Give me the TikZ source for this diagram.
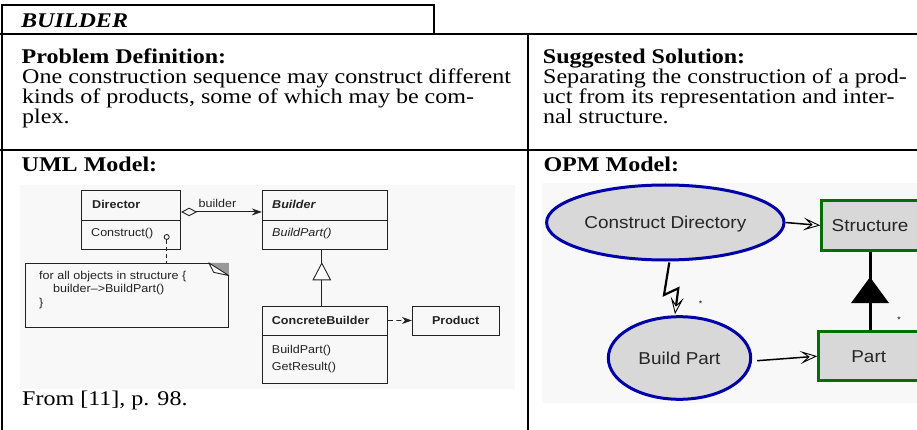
\documentclass[tikz,border=0pt]{standalone}
\usepackage{fontspec}
\setmainfont{Liberation Serif}[FakeStretch=1.15]
\newfontfamily\umlfont{Liberation Sans}[FakeStretch=1.1]
\newfontfamily\opmfont{Liberation Sans}[FakeStretch=1.1]
\usetikzlibrary{arrows.meta,shapes.geometric,calc}

\definecolor{opmblue}{RGB}{0,0,170}
\definecolor{opmgreen}{RGB}{0,110,0}
\definecolor{opmfill}{RGB}{216,216,216}
\definecolor{imgbg}{RGB}{248,248,248}
\definecolor{umlink}{RGB}{35,35,35}

\begin{document}
\begin{tikzpicture}[x=1pt,y=-1pt,
  rule/.style={line width=2pt},
  tabletext/.style={inner sep=0, anchor=base west, font=\fontsize{20.9}{20}\selectfont},
  umlbox/.style={draw=umlink, line width=0.9pt, rectangle, inner sep=0},
  umltext/.style={inner sep=0, anchor=west, text=umlink, font=\umlfont\fontsize{11.4}{14}\selectfont},
  umlline/.style={draw=umlink, line width=0.9pt},
  process/.style={ellipse, draw=opmblue, line width=3pt, fill=opmfill, inner sep=0, text depth=0pt,
    text=black!85, font=\opmfont\fontsize{17.2}{20}\selectfont},
  object/.style={rectangle, draw=opmgreen, line width=3pt, fill=opmfill, inner sep=0, text depth=0pt,
    text=black!85, font=\opmfont\fontsize{17.2}{20}\selectfont},
  opmlink/.style={draw=black, line width=1.5pt},
  opentip/.style={-{Stealth[open, length=17pt, width=13pt, inset=8pt, line width=0.9pt]}},
  mult/.style={inner sep=0, font=\opmfont\fontsize{8}{8}\selectfont}
]
\useasboundingbox (0,0) rectangle (917,430);
\clip (0,0) rectangle (917,430);

% faint backgrounds of the two model pictures
\fill[imgbg] (20,185) rectangle (515,389);
\fill[imgbg] (542,183) rectangle (917,403);

% table rules
\draw[rule] (2,5) -- (2,430);
\draw[line width=1.6pt] (1,5) -- (434,5) -- (434,34);
\draw[rule] (0,34) -- (917,34);
\draw[rule] (0,150) -- (917,150);
\draw[rule] (528,34) -- (528,430);

% table texts
\node[tabletext, font=\fontsize{20.9}{20}\selectfont\bfseries\itshape] (title) at (21,28) {BUILDER};
\node[tabletext, font=\fontsize{20.9}{20}\selectfont\bfseries] (probhead) at (21.5,64) {Problem Definition:};
\node[tabletext] (prob1) at (22,84) {One construction sequence may construct different};
\node[tabletext] (prob2) at (22,104) {kinds of products, some of which may be com-};
\node[tabletext] (prob3) at (22,124) {plex.};
\node[tabletext, font=\fontsize{20.9}{20}\selectfont\bfseries] (solhead) at (542.7,64) {Suggested Solution:};
\node[tabletext] (sol1) at (543,84) {Separating the construction of a prod-};
\node[tabletext] (sol2) at (543,104) {uct from its representation and inter-};
\node[tabletext] (sol3) at (543,124) {nal structure.};
\node[tabletext, font=\fontsize{20.9}{20}\selectfont\bfseries] (umlhead) at (21.5,172) {UML Model:};
\node[tabletext, font=\fontsize{20.9}{20}\selectfont\bfseries] (opmhead) at (543.3,172) {OPM Model:};
\node[tabletext] (source) at (22,405) {From [11], p. 98.};

% ---------- UML class diagram ----------
\node[umlbox, minimum width=99pt, minimum height=59.3pt] (director) at (131.2,219.65) {};
\draw[umlline] (81.7,220) -- (180.7,220);
\node[umltext, font=\umlfont\fontsize{11.4}{14}\selectfont\bfseries] (dirname) at (92,204.5) {Director};
\node[umltext] (dirop) at (91,234) {Construct()};

\node[umlbox, minimum width=125pt, minimum height=59.3pt] (builder) at (324.8,219.65) {};
\draw[umlline] (262.3,220) -- (387.3,220);
\node[umltext, font=\umlfont\fontsize{11.4}{14}\selectfont\bfseries\itshape] (bname) at (272,204.5) {Builder};
\node[umltext, font=\umlfont\fontsize{11.4}{14}\selectfont\itshape] (bop) at (272,234) {BuildPart()};

\node[umlbox, minimum width=125pt, minimum height=77.3pt] (cb) at (324.8,344.65) {};
\draw[umlline] (262.3,335) -- (387.3,335);
\node[umltext, font=\umlfont\fontsize{11.4}{14}\selectfont\bfseries] (cbname) at (271.7,320.5) {ConcreteBuilder};
\node[umltext] (cbop1) at (271.7,351) {BuildPart()};
\node[umltext] (cbop2) at (271.7,368) {GetResult()};

\node[umlbox, minimum width=86.7pt, minimum height=29pt,
  font=\umlfont\fontsize{11.4}{14}\selectfont\bfseries, text=umlink] (product) at (455.7,320.5) {Product};

\node[umlbox, minimum width=203.3pt, minimum height=64.4pt] (note) at (126.7,295.5) {};
\fill[black!40] ($(note.north east)+(-20,0)$) -- (note.north east) -- ($(note.north east)+(0,12.7)$) -- cycle;
\draw[umlline, fill=white, line join=round] ($(note.north east)+(-20,0)$) -- ($(note.north east)+(-15,9.5)$)
  -- ($(note.north east)+(0,12.7)$) -- cycle;
\node[umltext] (note1) at (39,276.5) {for all objects in structure \{};
\node[umltext] (note2) at (53,290) {builder–>BuildPart()};
\node[umltext] (note3) at (39,303.5) {\}};

\node[circle, draw=umlink, line width=0.9pt, fill=white, inner sep=0, minimum size=5pt] (hook) at (166.7,237) {};
\draw[umlline, dash pattern=on 4pt off 3pt] (hook.south) -- (hook.south |- note.north);

% aggregation Director -> Builder
\draw[umlline, {Diamond[open, length=16pt, width=8.5pt, line width=0.9pt]}-{Stealth[length=10pt, width=7pt]}]
  ([yshift=7.7pt]director.east) -- ([yshift=7.7pt]builder.west)
  node[pos=0.45, above=4pt, umltext, anchor=south] (rolename) {builder};

% inheritance ConcreteBuilder -> Builder
\draw[umlline] ([xshift=-3pt]cb.north) -- ([xshift=-3pt]builder.south)
  coordinate[pos=0.46] (inh);
\draw[umlline, fill=white, line join=miter] ($(inh)+(-8.7,0)$) -- ($(inh)+(8.7,0)$) -- ($(inh)+(0,-16.7)$) -- cycle;

% dependency ConcreteBuilder -> Product
\draw[umlline, dash pattern=on 5pt off 3.5pt, -{Stealth[length=10pt, width=7pt]}]
  ([yshift=24.2pt]cb.east) -- (product.west);

% ---------- OPM diagram ----------
\node[process, minimum width=237.4pt, minimum height=75pt] (cd) at (665.3,222.5) {Construct Directory};
\node[process, minimum width=142.4pt, minimum height=82.6pt] (bp) at (679.5,358) {Build Part};
\node[object, minimum width=96.6pt, minimum height=49.3pt] (structure) at (870,225.4) {Structure};
\node[object, minimum width=100pt, minimum height=49pt] (part) at (868.7,356.2) {Part};

\draw[opmlink, opentip] (cd.east) -- (structure.west);
\draw[opmlink, opentip] ([xshift=5pt,yshift=-2.7pt]bp.east) -- (part.west);

% invocation (lightning) link
\draw[opmlink, line width=2.2pt, line join=miter, opentip]
  ([xshift=4pt,yshift=-1pt]cd.south) -- (664,295) -- (678.3,288.3) -- ([xshift=-4.5pt,yshift=1pt]bp.north);
\node[mult] (m1) at (700.7,303.3) {*};

% aggregation Structure -> Part
\draw[black, line width=3pt] (structure.south) -- (structure.south |- part.north) coordinate[pos=0.49] (agg);
\fill[black] ($(agg)+(-19,13)$) -- ($(agg)+(19,13)$) -- ($(agg)+(0,-13)$) -- cycle;
\node[mult] (m2) at (899,320) {*};
\end{tikzpicture}
\end{document}
